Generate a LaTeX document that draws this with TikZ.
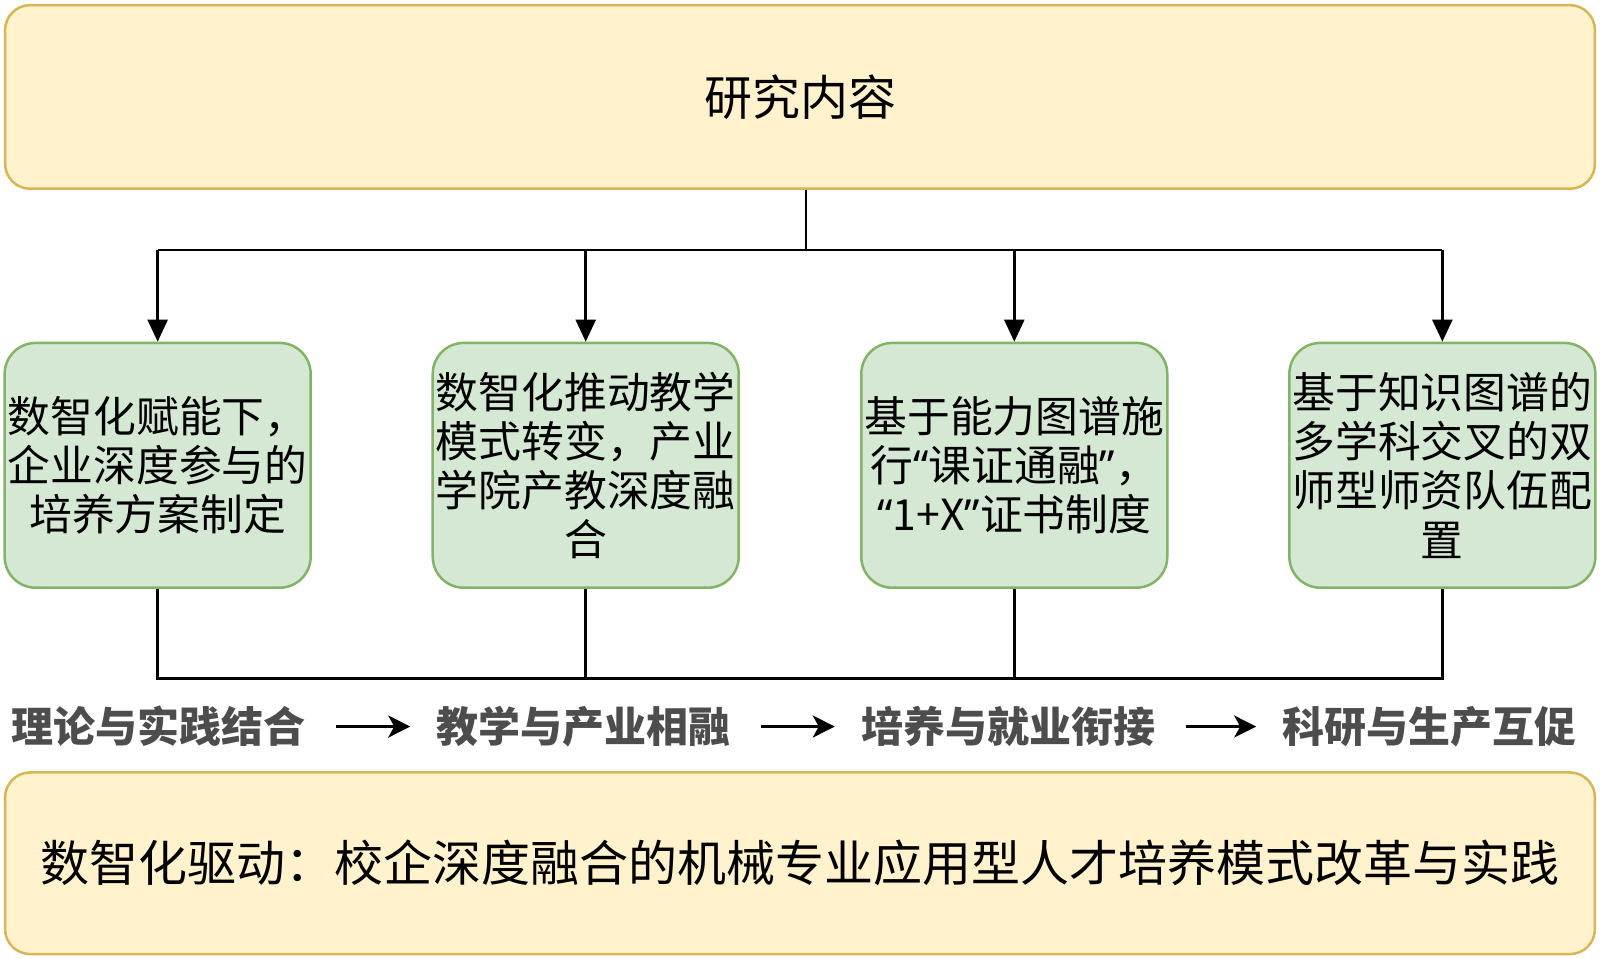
\documentclass[tikz,border=0pt]{standalone}
\usepackage{fontspec}
\setmainfont{Noto Sans CJK SC}
\newfontfamily\latinq{Noto Sans}
\newcommand{\myoq}{{\latinq “}}
\newcommand{\mycq}{{\latinq ”}}
\usetikzlibrary{arrows.meta}
\definecolor{yfill}{HTML}{FFF2CC}
\definecolor{ydraw}{HTML}{D6B656}
\definecolor{gfill}{HTML}{D5E8D4}
\definecolor{gdraw}{HTML}{82B366}
\definecolor{stagegray}{HTML}{4D4D4D}
\begin{document}
\begin{tikzpicture}[x=0.5102pt,y=-0.5102pt,
  ybox/.style={draw=ydraw, fill=yfill, line width=1.25pt, rounded corners=12.5pt, minimum width=794.9pt, inner sep=0pt},
  gbox/.style={draw=gdraw, fill=gfill, line width=1.25pt, rounded corners=15.5pt, minimum width=153pt, minimum height=122.4pt, inner sep=0pt, align=center, font=\fontsize{21.4pt}{24.6pt}\selectfont},
  stage/.style={inner sep=0pt, text=stagegray, font=\fontsize{21pt}{24pt}\selectfont\bfseries},
  wire/.style={line width=1.25pt, black},
  tree/.style={wire, -{Triangle[length=11pt,width=10pt]}},
  flow/.style={line width=1.5pt, -{Stealth[length=11pt,width=11pt,inset=3pt]}, shorten <=15pt, shorten >=13pt}
]
\useasboundingbox (0,0) rectangle (1568,939.8);
\node[ybox, minimum height=91.8pt, font=\fontsize{24pt}{28pt}\selectfont] (top) at (784,95) {研究内容};
\node[ybox, minimum height=90.8pt, font=\fontsize{24.5pt}{28pt}\selectfont] (bot) at (784,846) {数智化驱动：校企深度融合的机械专业应用型人才培养模式改革与实践};

\node[gbox] (g1) at (154.5,456) {数智化赋能下，\\企业深度参与的\\培养方案制定};
\node[gbox] (g2) at (574,456) {数智化推动教学\\模式转变，产业\\学院产教深度融\\合};
\node[gbox] (g3) at (994,456) {基于能力图谱施\\行\myoq 课证通融\mycq ，\\\myoq 1+X\mycq 证书制度};
\node[gbox] (g4) at (1413.5,456) {基于知识图谱的\\多学科交叉的双\\师型师资队伍配\\置};

\coordinate (j) at (790,245);
\coordinate (b) at (790,665);
\draw[wire] (j |- top.south) -- (j);
\draw[wire] (g1.north |- j) -- (g4.north |- j);
\draw[tree] (g1.north |- j) -- (g1.north);
\draw[tree] (g2.north |- j) -- (g2.north);
\draw[tree] (g3.north |- j) -- (g3.north);
\draw[tree] (g4.north |- j) -- (g4.north);

\draw[wire] (g1.south) -- (g1.south |- b) -- (g4.south |- b) -- (g4.south);
\draw[wire] (g2.south) -- (g2.south |- b);
\draw[wire] (g3.south) -- (g3.south |- b);

\node[stage] (t1) at (155,712) {理论与实践结合};
\node[stage] (t2) at (572,712) {教学与产业相融};
\node[stage] (t3) at (988,712) {培养与就业衔接};
\node[stage] (t4) at (1401,712) {科研与生产互促};
\draw[flow] (t1) -- (t2);
\draw[flow] (t2) -- (t3);
\draw[flow] (t3) -- (t4);
\end{tikzpicture}
\end{document}
